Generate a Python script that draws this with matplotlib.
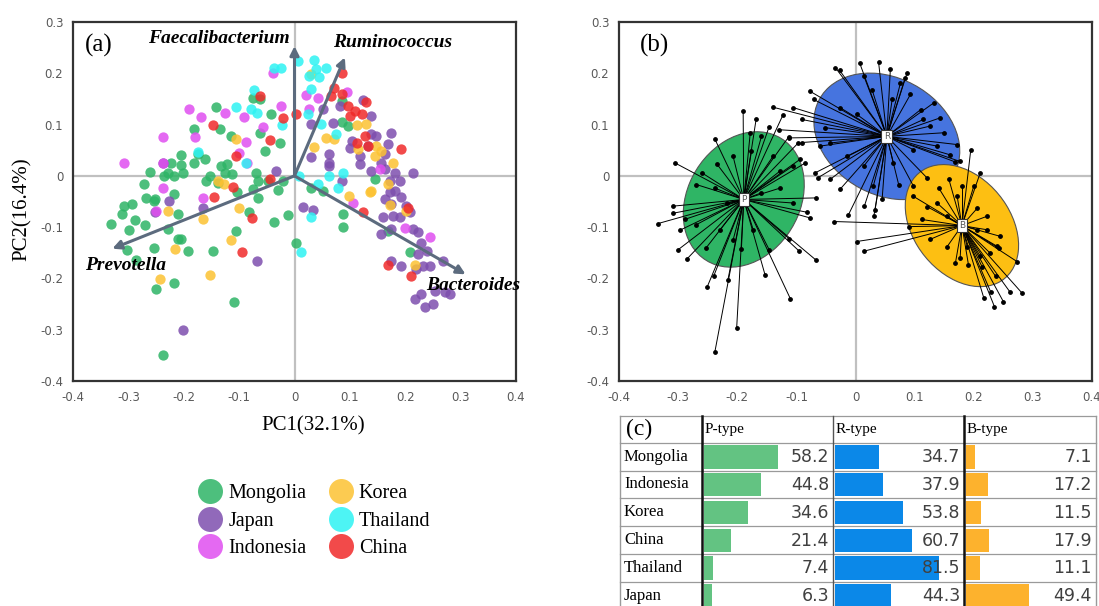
import numpy as np
import matplotlib.pyplot as plt
from matplotlib.patches import Ellipse, Rectangle
from matplotlib.lines import Line2D

# ---- panel (a): PCA scores per country ----
countries = ['Mongolia', 'Japan', 'Indonesia', 'Korea', 'Thailand', 'China']
colors = ['#2eb466', '#7e4fae', '#e04ff0', '#fcc232', '#2ef3f3', '#f02a2a']

mongolia = [(-0.142, 0.135), (-0.181, 0.092), (-0.134, 0.091), (-0.115, 0.078), (-0.075, 0.152),
            (-0.062, 0.149), (-0.042, 0.120), (-0.062, 0.084), (-0.027, 0.064), (-0.054, 0.049),
            (-0.205, 0.040), (-0.223, 0.026), (-0.205, 0.021), (-0.181, 0.026), (-0.162, 0.032),
            (-0.261, 0.008), (-0.236, 0.000), (-0.217, 0.000), (-0.202, 0.006), (-0.175, 0.042),
            (-0.160, -0.010), (-0.153, 0.000), (-0.133, 0.019), (-0.121, 0.023), (-0.125, 0.006),
            (-0.112, 0.003), (-0.139, -0.013), (-0.069, 0.006), (-0.066, -0.010), (-0.048, -0.010),
            (-0.030, -0.027), (-0.021, -0.010), (-0.075, -0.026), (-0.103, -0.032), (-0.271, -0.016),
            (-0.269, -0.044), (-0.252, -0.045), (-0.308, -0.058), (-0.294, -0.054), (-0.311, -0.075),
            (-0.332, -0.094), (-0.299, -0.106), (-0.288, -0.086), (-0.270, -0.096), (-0.254, -0.049),
            (-0.229, -0.104), (-0.217, -0.036), (-0.211, -0.075), (-0.211, -0.123), (-0.205, -0.123),
            (-0.193, -0.146), (-0.254, -0.140), (-0.302, -0.144), (-0.287, -0.164), (-0.148, -0.146),
            (-0.217, -0.208), (-0.251, -0.221), (-0.109, -0.245), (-0.237, -0.349), (-0.106, -0.107),
            (-0.082, -0.071), (-0.066, -0.044), (-0.037, -0.090), (-0.012, -0.077), (0.003, -0.130),
            (0.030, -0.023), (0.051, -0.029), (0.088, -0.075), (0.088, -0.099), (0.085, 0.146),
            (0.085, 0.105), (0.097, 0.097), (0.145, -0.006), (0.169, -0.107), (0.208, -0.148),
            (-0.229, 0.006)]
japan = [(-0.033, 0.010), (0.015, -0.060), (0.033, -0.066), (0.030, 0.036), (0.063, 0.042),
         (0.063, 0.026), (0.051, 0.130), (0.069, 0.103), (0.082, 0.136), (0.103, 0.068),
         (0.124, 0.148), (0.139, 0.117), (0.100, 0.055), (0.118, 0.039), (0.118, 0.023),
         (0.139, 0.081), (0.148, 0.077), (0.169, 0.063), (0.157, 0.026), (0.139, 0.010),
         (0.163, 0.013), (0.181, 0.006), (0.214, 0.006), (0.172, -0.010), (0.190, -0.010),
         (0.172, -0.032), (0.181, -0.029), (0.193, -0.042), (0.163, -0.045), (0.175, -0.055),
         (0.160, -0.081), (0.178, -0.078), (0.190, -0.081), (0.202, -0.058), (0.208, -0.071),
         (0.157, -0.114), (0.175, -0.104), (0.214, -0.104), (0.223, -0.110), (0.229, -0.130),
         (0.223, -0.153), (0.220, -0.182), (0.232, -0.175), (0.245, -0.175), (0.239, -0.146),
         (0.269, -0.166), (0.254, -0.224), (0.272, -0.227), (0.281, -0.231), (0.217, -0.240),
         (0.236, -0.256), (0.251, -0.250), (0.229, -0.231), (0.193, -0.175), (0.175, -0.166),
         (-0.068, -0.166), (-0.202, -0.301), (-0.237, 0.026), (-0.226, -0.049), (-0.252, -0.070),
         (-0.166, -0.063), (0.085, -0.010), (0.030, 0.101), (0.063, 0.019), (0.133, 0.058),
         (0.163, 0.042), (0.175, 0.084)]
indonesia = [(-0.307, 0.026), (-0.237, 0.076), (-0.237, 0.026), (-0.237, -0.023), (-0.251, -0.068),
             (-0.190, 0.130), (-0.168, 0.114), (-0.180, 0.076), (-0.125, 0.123), (-0.092, 0.114),
             (-0.100, 0.045), (-0.088, 0.066), (-0.086, 0.026), (-0.056, 0.095), (-0.025, 0.136),
             (-0.038, 0.201), (-0.166, -0.044), (0.021, 0.157), (0.042, 0.151), (0.094, 0.164),
             (0.106, -0.052), (0.199, -0.101), (0.245, -0.119), (0.154, 0.013), (0.027, 0.130)]
korea = [(-0.106, 0.071), (-0.139, -0.010), (-0.127, -0.016), (-0.228, -0.068), (-0.166, -0.084),
         (-0.100, -0.062), (-0.115, -0.125), (-0.216, -0.143), (-0.242, -0.201), (-0.152, -0.194),
         (0.036, 0.056), (0.057, 0.073), (0.112, 0.099), (0.130, 0.101), (0.115, 0.052),
         (0.145, 0.039), (0.157, 0.049), (0.178, 0.026), (0.169, -0.016), (0.139, -0.029),
         (0.136, -0.032), (0.172, -0.056), (0.202, -0.069), (0.217, -0.173), (0.098, -0.040),
         (0.148, 0.058), (0.030, 0.198), (0.072, 0.071)]
thailand = [(-0.037, 0.211), (-0.025, 0.211), (-0.074, 0.167), (-0.079, 0.130), (-0.068, 0.123),
            (-0.106, 0.135), (-0.022, 0.099), (-0.088, 0.026), (0.006, 0.224), (0.036, 0.225),
            (0.039, 0.208), (0.057, 0.211), (0.045, 0.192), (0.027, 0.195), (0.030, 0.169),
            (0.024, 0.120), (0.047, 0.101), (0.075, 0.081), (0.063, 0.000), (0.088, 0.006),
            (0.079, -0.023), (0.042, -0.015), (0.009, 0.000), (0.030, -0.081), (0.012, -0.148),
            (-0.175, 0.047)]
china = [(-0.063, 0.155), (-0.147, 0.099), (-0.021, 0.112), (-0.045, 0.070), (-0.106, 0.039),
         (-0.111, -0.021), (-0.145, -0.042), (-0.077, -0.083), (-0.095, -0.149), (-0.045, -0.006),
         (0.003, 0.120), (0.085, 0.200), (0.072, 0.172), (0.085, 0.160), (0.097, 0.136),
         (0.100, 0.117), (0.109, 0.127), (0.130, 0.144), (0.121, 0.120), (0.127, 0.078),
         (0.133, 0.058), (0.112, 0.065), (0.193, 0.052), (0.124, -0.071), (0.205, -0.062),
         (0.169, -0.174), (0.211, -0.195), (0.066, 0.156)]
scores = [mongolia, japan, indonesia, korea, thailand, china]

# biplot loadings
genera = ['Faecalibacterium', 'Ruminococcus', 'Prevotella', 'Bacteroides']
loadings = [(0.000, 0.253), (0.091, 0.231), (-0.329, -0.142), (0.309, -0.192)]
genus_label_pos = [(-0.136, 0.268), (0.178, 0.260), (-0.305, -0.174), (0.322, -0.213)]

# ---- panel (b): enterotype clusters ----
centroids = {'P': (-0.189, -0.046), 'R': (0.053, 0.077), 'B': (0.180, -0.097)}
ellipse_size = {'P': (0.272, 0.194, 70), 'R': (0.274, 0.216, -45), 'B': (0.254, 0.170, -62)}
ellipse_colors = {'P': '#2fb565', 'R': '#4674df', 'B': '#fdbf12'}

p_points = [(-0.190, 0.126), (-0.168, 0.111), (-0.146, 0.096), (-0.123, 0.118), (-0.238, 0.072),
            (-0.305, 0.025), (-0.235, 0.024), (-0.207, 0.038), (-0.176, 0.048), (-0.139, 0.039),
            (-0.128, 0.009), (-0.105, 0.020), (-0.094, 0.032), (-0.085, 0.025), (-0.097, 0.064),
            (-0.113, 0.076), (-0.260, 0.006), (-0.269, -0.017), (-0.238, -0.024), (-0.308, -0.059),
            (-0.309, -0.073), (-0.334, -0.093), (-0.297, -0.106), (-0.289, -0.085), (-0.269, -0.095),
            (-0.300, -0.144), (-0.285, -0.162), (-0.253, -0.141), (-0.240, -0.196), (-0.251, -0.217),
            (-0.216, -0.204), (-0.201, -0.297), (-0.238, -0.344), (-0.193, -0.143), (-0.153, -0.193),
            (-0.110, -0.240), (-0.146, -0.144), (-0.095, -0.147), (-0.067, -0.164), (-0.112, -0.123),
            (-0.077, -0.082), (-0.082, -0.071), (-0.067, -0.043), (-0.105, -0.053), (-0.128, -0.024),
            (-0.159, -0.033), (-0.218, -0.053), (-0.229, -0.105), (-0.207, -0.125), (-0.173, -0.105),
            (-0.178, 0.084), (-0.159, 0.077)]
r_points = [(-0.034, 0.211), (-0.027, 0.206), (0.007, 0.220), (0.039, 0.222), (0.059, 0.209),
            (0.087, 0.200), (0.084, 0.191), (-0.077, 0.165), (-0.071, 0.149), (-0.091, 0.110),
            (-0.140, 0.134), (-0.105, 0.133), (-0.130, 0.090), (-0.112, 0.074), (-0.091, 0.065),
            (-0.068, 0.006), (-0.064, -0.004), (-0.043, -0.007), (-0.026, -0.026), (-0.012, -0.076),
            (0.015, -0.059), (0.031, -0.079), (0.033, -0.067), (0.045, -0.046), (0.073, -0.017),
            (0.098, -0.020), (0.121, -0.004), (0.169, 0.027), (0.177, 0.028), (0.172, 0.061),
            (0.143, 0.113), (0.132, 0.142), (0.126, 0.097), (0.110, 0.129), (0.093, 0.159),
            (0.062, 0.149), (0.028, 0.168), (0.002, 0.120), (-0.026, 0.133), (-0.043, 0.064),
            (-0.015, 0.038), (0.014, 0.019), (0.030, -0.020), (0.064, 0.025), (0.098, 0.051),
            (0.138, 0.058), (0.149, 0.084), (0.076, 0.181), (0.115, 0.110), (0.160, 0.041),
            (0.014, 0.195), (-0.051, 0.094), (-0.060, 0.058)]
b_points = [(0.195, 0.051), (0.211, 0.006), (-0.037, -0.089), (0.002, -0.128), (0.014, -0.147),
            (0.090, -0.099), (0.098, -0.040), (0.141, -0.024), (0.138, -0.053), (0.172, -0.040),
            (0.180, -0.020), (0.206, -0.063), (0.222, -0.079), (0.245, -0.118), (0.242, -0.141),
            (0.273, -0.167), (0.282, -0.229), (0.261, -0.226), (0.250, -0.245), (0.235, -0.255),
            (0.229, -0.227), (0.217, -0.238), (0.237, -0.196), (0.214, -0.177), (0.191, -0.173),
            (0.169, -0.170), (0.177, -0.160), (0.155, -0.138), (0.126, -0.124), (0.112, -0.085),
            (0.189, -0.138), (0.211, -0.157), (0.228, -0.151), (0.206, -0.105), (0.222, -0.105),
            (0.155, -0.079), (0.121, -0.060), (0.158, -0.007), (0.200, -0.020), (0.239, -0.137)]
cluster_points = {'P': p_points, 'R': r_points, 'B': b_points}

# ---- panel (c): enterotype share per country (%) ----
table_rows = ['Mongolia', 'Indonesia', 'Korea', 'China', 'Thailand', 'Japan']
table_cols = ['P-type', 'R-type', 'B-type']
p_type = [58.2, 44.8, 34.6, 21.4, 7.4, 6.3]
r_type = [34.7, 37.9, 53.8, 60.7, 81.5, 44.3]
b_type = [7.1, 17.2, 11.5, 17.9, 11.1, 49.4]
bar_colors = ['#63c382', '#0b88e8', '#fdb22d']

SERIF = 'Liberation Serif'
TICK_COLOR = '#595959'


def style_pca_axes(ax):
    ax.set_xlim(-0.4, 0.4)
    ax.set_ylim(-0.4, 0.3)
    ax.set_xticks(np.arange(-0.4, 0.41, 0.1))
    ax.set_yticks(np.arange(-0.4, 0.31, 0.1))
    fmt = lambda v: '0' if abs(v) < 1e-9 else f'{v:.1f}'
    ax.set_xticklabels([fmt(v) for v in ax.get_xticks()])
    ax.set_yticklabels([fmt(v) for v in ax.get_yticks()])
    ax.tick_params(length=0, labelsize=8.5, labelcolor=TICK_COLOR, pad=7)
    for s in ax.spines.values():
        s.set_color('#333333')
        s.set_linewidth(1.6)
    ax.axhline(0, color='#c0c0c0', lw=1.6, zorder=0)
    ax.axvline(0, color='#c0c0c0', lw=1.6, zorder=0)


def plot_panel_a(fig):
    ax = fig.add_axes([73 / 1099, 1 - 381 / 606, 443 / 1099, 359 / 606])
    style_pca_axes(ax)
    for pts, col in zip(scores, colors):
        pts = np.array(pts)
        ax.scatter(pts[:, 0], pts[:, 1], s=55, color=col, alpha=0.85, lw=0, zorder=2)
    for (lx, ly), (tx, ty), name in zip(loadings, genus_label_pos, genera):
        ax.annotate('', xy=(lx, ly), xytext=(0, 0),
                    arrowprops=dict(arrowstyle='-|>', color='#5c6b7e', lw=2.2,
                                    mutation_scale=13, shrinkA=0, shrinkB=0), zorder=3)
        ax.text(tx, ty, name, family=SERIF, style='italic', weight='bold', fontsize=14,
                ha='center', va='center', zorder=4, clip_on=False)
    ax.text(-0.378, 0.255, '(a)', family=SERIF, fontsize=18, ha='left', va='center')
    fig.text(313 / 1099, 1 - 426 / 606, 'PC1(32.1%)', family=SERIF, fontsize=15,
             ha='center', va='center')
    fig.text(22 / 1099, 1 - 209 / 606, 'PC2(16.4%)', family=SERIF, fontsize=15,
             ha='center', va='center', rotation=90)

    handles = [Line2D([], [], marker='o', ls='', ms=18, color=c, alpha=0.85, mew=0)
               for c in colors]
    fig.legend(handles, countries, ncol=2,
               loc='upper left', bbox_to_anchor=(188 / 1099, 1 - 474 / 606), frameon=False,
               prop={'family': SERIF, 'size': 14.5}, handletextpad=0.3, columnspacing=1.1,
               labelspacing=0.42, borderpad=0, handlelength=1.2)


def plot_panel_b(fig):
    ax = fig.add_axes([619 / 1099, 1 - 381 / 606, 473 / 1099, 359 / 606])
    style_pca_axes(ax)
    for key, (cx, cy) in centroids.items():
        w, h, ang = ellipse_size[key]
        ax.add_patch(Ellipse((cx, cy), w, h, angle=ang, facecolor=ellipse_colors[key],
                             edgecolor='#555555', lw=0.8, zorder=1))
    for key, (cx, cy) in centroids.items():
        pts = np.array(cluster_points[key])
        for px, py in pts:
            ax.plot([cx, px], [cy, py], color='black', lw=0.7, zorder=2)
        ax.scatter(pts[:, 0], pts[:, 1], s=6, color='black', zorder=3)
    for key, (cx, cy) in centroids.items():
        ax.text(cx, cy, key, fontsize=6.5, color='#555555', ha='center', va='center', zorder=5,
                bbox=dict(boxstyle='square,pad=0.25', fc='white', ec='#333333', lw=0.8))
    ax.text(-0.365, 0.255, '(b)', family=SERIF, fontsize=18, ha='left', va='center')


def plot_panel_c(fig):
    # table drawn in pixel units of its own box
    tw, th = 476, 190
    ax = fig.add_axes([620 / 1099, 0, tw / 1099, th / 606])
    ax.set_xlim(0, tw)
    ax.set_ylim(th, 0)
    ax.axis('off')
    col_x = [0, 82, 213, 344, 476]
    row_y = [0, 26.7] + [26.7 + 27.8 * (i + 1) for i in range(len(table_rows))]
    for y in row_y:
        ax.plot([0, tw], [y, y], color='#9a9a9a', lw=0.9, clip_on=False)
    for i, x in enumerate(col_x):
        thick = i in (1, 3)
        ax.plot([x, x], [0, th], color='#111111' if thick else ('#555555' if i == 2 else '#9a9a9a'),
                lw=1.8 if thick else 1.0, clip_on=False)
    ax.text(6, 13, '(c)', family=SERIF, fontsize=17, ha='left', va='center')
    for j, name in enumerate(table_cols):
        ax.text(col_x[j + 1] + 3, 14, name, family=SERIF, fontsize=11, ha='left', va='center')
    series = [p_type, r_type, b_type]
    for i, country in enumerate(table_rows):
        y0, y1 = row_y[i + 1], row_y[i + 2]
        ax.text(4, (y0 + y1) / 2, country, family=SERIF, fontsize=12, ha='left', va='center')
        for j, vals in enumerate(series):
            cl, cr = col_x[j + 1], col_x[j + 2]
            width = vals[i] / 100 * (cr - cl - 4)
            ax.add_patch(Rectangle((cl + 2, y0 + 2.5), width, (y1 - y0) - 4.5,
                                   facecolor=bar_colors[j], edgecolor='none'))
            ax.text(cr - 4, (y0 + y1) / 2 + 0.5, f'{vals[i]:.1f}', fontsize=12.5, color='#404040',
                    ha='right', va='center')


def main():
    fig = plt.figure(figsize=(10.99, 6.06), dpi=100)
    plot_panel_a(fig)
    plot_panel_b(fig)
    plot_panel_c(fig)
    fig.savefig('out.png', dpi=100)


if __name__ == "__main__":
    main()
